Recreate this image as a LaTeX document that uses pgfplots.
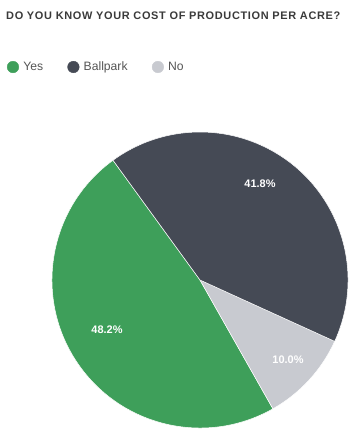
\documentclass[border=0pt]{standalone}
\usepackage{pgfplots}
\usepackage{pgfplotstable}
\pgfplotsset{compat=1.18}
\usepackage{fontspec}
\setmainfont{Liberation Sans}
\definecolor{cYes}{HTML}{3E9F5A}
\definecolor{cBallpark}{HTML}{454A55}
\definecolor{cNo}{HTML}{C8CAD0}
\definecolor{titlec}{HTML}{3A3A3A}
\definecolor{legc}{HTML}{555555}
\pgfplotstableread{
label value lx ly
Yes 48.2 107 330
No 10.0 288 360
Ballpark 41.8 260 184
}\piedata
\begin{document}
\begin{tikzpicture}
\path[use as bounding box] (0,0) rectangle (357bp,431bp);
\begin{axis}[
  at={(0,0)}, anchor=south west,
  x=1bp, y=1bp, xmin=0, xmax=357, ymin=0, ymax=431,
  y dir=reverse, hide axis, clip=false,
  legend columns=-1,
  legend style={at={(axis cs:7,67)}, anchor=west, draw=none, fill=none,
    font=\fontsize{12.2}{13}\selectfont, text=legc, inner sep=0pt,
    /tikz/every odd column/.append style={column sep=2.5bp},
    /tikz/every even column/.append style={column sep=22.5bp}},
  legend image code/.code={\draw[#1] plot coordinates {(0bp,0bp)};},
]
\addlegendimage{only marks, mark=*, mark size=5.8bp, color=cYes}
\addlegendentry{Yes}
\addlegendimage{only marks, mark=*, mark size=5.8bp, color=cBallpark}
\addlegendentry{Ballpark}
\addlegendimage{only marks, mark=*, mark size=5.8bp, color=cNo}
\addlegendentry{No}
\def\start{126}
\pgfplotsforeachungrouped \i in {0,1,2} {
  \pgfplotstablegetelem{\i}{value}\of\piedata
  \let\val\pgfplotsretval
  \pgfplotstablegetelem{\i}{label}\of\piedata
  \let\lab\pgfplotsretval
  \pgfplotstablegetelem{\i}{lx}\of\piedata
  \let\lx\pgfplotsretval
  \pgfplotstablegetelem{\i}{ly}\of\piedata
  \let\ly\pgfplotsretval
  \pgfmathsetmacro\dlt{3.6*\val}
  \edef\temp{\noexpand\fill[c\lab, draw=white, line width=0.5bp] (axis cs:200,280) -- ++(\start:148bp) arc[start angle=\start, delta angle=\dlt, radius=148bp] -- cycle;
    \noexpand\node[text=white, font=\noexpand\bfseries\noexpand\fontsize{11}{12}\noexpand\selectfont] at (axis cs:\lx,\ly) {\val\noexpand\%};}
  \temp
  \pgfmathsetmacro\start{\start+\dlt}
  \global\let\start\start
}
\node[anchor=west, text=titlec, font=\bfseries\fontsize{11}{13}\selectfont\addfontfeature{LetterSpace=6}, inner sep=0pt] at (axis cs:6,15.5) {DO YOU KNOW YOUR COST OF PRODUCTION PER ACRE?};
\end{axis}
\end{tikzpicture}
\end{document}
